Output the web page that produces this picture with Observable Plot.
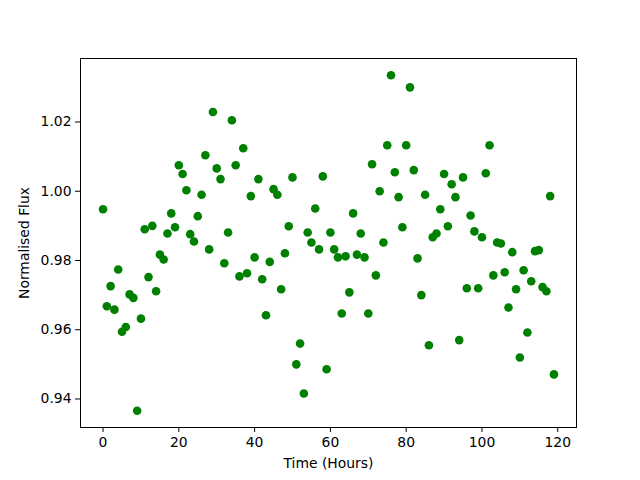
<!DOCTYPE html>
<html>
<head>
<meta charset="utf-8">
<script src="https://cdn.jsdelivr.net/npm/d3@7"></script>
<script src="https://cdn.jsdelivr.net/npm/@observablehq/plot@0.6"></script>
<style>
  html, body { margin: 0; padding: 0; background: #fff; }
  #chart svg { display: block; }
</style>
</head>
<body>
<div id="chart"></div>
<script>
const hours = d3.range(0, 120);
const flux = [
  0.9948, 0.9668, 0.9726, 0.9658, 0.9774, 0.9594, 0.9608, 0.9702, 0.9692, 0.9366,
  0.9632, 0.9890, 0.9752, 0.9900, 0.9711, 0.9817, 0.9803, 0.9878, 0.9936, 0.9896,
  1.0075, 1.0050, 1.0003, 0.9876, 0.9855, 0.9928, 0.9990, 1.0104, 0.9832, 1.0229,
  1.0066, 1.0035, 0.9792, 0.9881, 1.0205, 1.0075, 0.9754, 1.0124, 0.9763, 0.9986,
  0.9809, 1.0035, 0.9746, 0.9642, 0.9796, 1.0006, 0.9990, 0.9717, 0.9821, 0.9899,
  1.0040, 0.9500, 0.9560, 0.9416, 0.9881, 0.9852, 0.9950, 0.9832, 1.0043, 0.9486,
  0.9881, 0.9832, 0.9809, 0.9647, 0.9812, 0.9708, 0.9936, 0.9817, 0.9878, 0.9809,
  0.9647, 1.0078, 0.9757, 1.0000, 0.9852, 1.0133, 1.0335, 1.0055, 0.9983, 0.9896,
  1.0133, 1.0300, 1.0061, 0.9806, 0.9700, 0.9990, 0.9555, 0.9867, 0.9878, 0.9948,
  1.0050, 0.9899, 1.0020, 0.9983, 0.9570, 1.0040, 0.9720, 0.9930, 0.9884, 0.9720,
  0.9867, 1.0052, 1.0133, 0.9757, 0.9852, 0.9849, 0.9766, 0.9664, 0.9824, 0.9717,
  0.9520, 0.9772, 0.9592, 0.9740, 0.9827, 0.9830, 0.9723, 0.9711, 0.9986, 0.9471
];
const xTicks = [0, 20, 40, 60, 80, 100, 120];
const yTicks = [0.94, 0.96, 0.98, 1.00, 1.02];

const data = hours.map((h, i) => ({time: h, flux: flux[i]}));

const chart = Plot.plot({
  width: 640,
  height: 480,
  marginLeft: 80,
  marginRight: 64,
  marginTop: 58,
  marginBottom: 53,
  style: {fontFamily: "DejaVu Sans", fontSize: "13.9px", background: "#fff", color: "#000"},
  x: {domain: [-5.95, 124.95]},
  y: {domain: [0.93176, 1.03834]},
  marks: [
    Plot.dot(data, {x: "time", y: "flux", r: 4.3, fill: "green", stroke: "none"}),
    Plot.frame({stroke: "#000", strokeWidth: 1}),
    Plot.axisX({ticks: xTicks, tickSize: 5, tickPadding: 5, tickFormat: d3.format("d"),
      label: "Time (Hours)", labelAnchor: "center", labelArrow: "none", labelOffset: 40,
      fontSize: 13.9}),
    Plot.axisY({ticks: yTicks, tickSize: 5, tickPadding: 4, tickFormat: d3.format(".2f"),
      label: "Normalised Flux", labelAnchor: "center", labelArrow: "none", labelOffset: 61,
      fontSize: 13.9})
  ]
});
document.getElementById("chart").appendChild(chart);
</script>
</body>
</html>
